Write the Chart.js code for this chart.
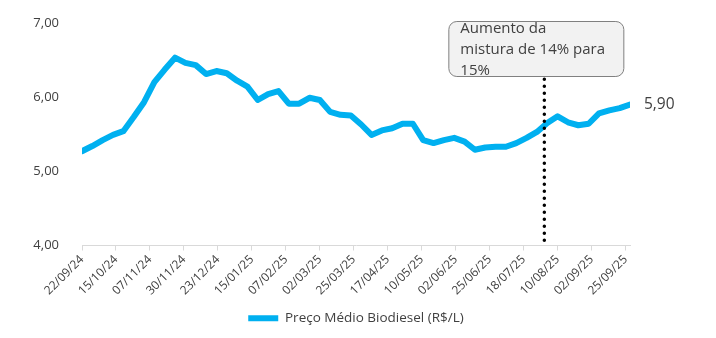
<!DOCTYPE html>
<html>
<head>
<meta charset="utf-8">
<script src="https://cdn.jsdelivr.net/npm/chart.js@4.4.1/dist/chart.umd.min.js"></script>
<style>
    html, body { margin: 0; padding: 0; background: #fff; }
    #wrap { width: 716px; height: 338px; }
</style>
</head>
<body>
<div id="wrap"><canvas id="dieselChart"></canvas></div>
<script>
// semanas (datas de referência)
const datas = [
    '2024-09-22', '2024-09-29', '2024-10-06', '2024-10-13', '2024-10-20', '2024-10-27',
    '2024-11-03', '2024-11-10', '2024-11-17', '2024-11-24', '2024-12-01', '2024-12-08',
    '2024-12-15', '2024-12-22', '2024-12-29', '2025-01-05', '2025-01-12', '2025-01-19',
    '2025-01-26', '2025-02-02', '2025-02-09', '2025-02-16', '2025-02-23', '2025-03-02',
    '2025-03-09', '2025-03-16', '2025-03-23', '2025-03-30', '2025-04-06', '2025-04-13',
    '2025-04-20', '2025-04-27', '2025-05-04', '2025-05-11', '2025-05-18', '2025-05-25',
    '2025-06-01', '2025-06-08', '2025-06-15', '2025-06-22', '2025-06-29', '2025-07-06',
    '2025-07-13', '2025-07-20', '2025-07-27', '2025-08-03', '2025-08-10', '2025-08-17',
    '2025-08-24', '2025-08-31', '2025-09-07', '2025-09-14', '2025-09-21', '2025-09-28'
];

const precoBiodiesel = [
    5.27, 5.34, 5.42, 5.49, 5.54, 5.73, 5.93, 6.20, 6.37, 6.53,
    6.46, 6.43, 6.31, 6.35, 6.32, 6.22, 6.14, 5.96, 6.04, 6.08,
    5.91, 5.91, 5.99, 5.96, 5.80, 5.76, 5.75, 5.63, 5.49, 5.55,
    5.58, 5.64, 5.64, 5.42, 5.38, 5.42, 5.45, 5.40, 5.29, 5.32,
    5.33, 5.33, 5.38, 5.45, 5.53, 5.65, 5.74, 5.66, 5.62, 5.64,
    5.78, 5.82, 5.85, 5.90
];

// rótulos do eixo x (a cada 23 dias)
const rotulosX = [
    '22/09/24', '15/10/24', '07/11/24', '30/11/24', '23/12/24', '15/01/25',
    '07/02/25', '02/03/25', '25/03/25', '17/04/25', '10/05/25', '02/06/25',
    '25/06/25', '18/07/25', '10/08/25', '02/09/25', '25/09/25'
];
const passoDias = 23;

const dataMistura = '2025-08-01';
const textoMistura = ['Aumento da', 'mistura de 14% para', '15%'];

const dia0 = Date.UTC(2024, 8, 22);
function diasDesde(iso) {
    const p = iso.split('-').map(Number);
    return Math.round((Date.UTC(p[0], p[1] - 1, p[2]) - dia0) / 86400000);
}

function fmt(v) {
    return v.toFixed(2).replace('.', ',');
}

const pontos = datas.map((d, i) => ({ x: diasDesde(d), y: precoBiodiesel[i] }));

const fonte = "'Open Sans', sans-serif";
const cinzaTexto = '#404040';

const anotacoes = {
    id: 'anotacoes',
    afterDatasetsDraw(chart) {
        const ctx = chart.ctx;
        const x = chart.scales.x;
        const y = chart.scales.y;

        // linha pontilhada da mudança de mistura
        const xm = x.getPixelForValue(diasDesde(dataMistura));
        ctx.save();
        ctx.strokeStyle = '#000';
        ctx.lineWidth = 3.5;
        ctx.lineCap = 'round';
        ctx.setLineDash([0, 7]);
        ctx.beginPath();
        ctx.moveTo(xm, y.getPixelForValue(6.24));
        ctx.lineTo(xm, y.getPixelForValue(4.04));
        ctx.stroke();
        ctx.restore();

        // caixa de texto
        const bx = xm - 96, by = 21, bw = 175, bh = 55;
        ctx.save();
        ctx.beginPath();
        ctx.roundRect(bx + 0.5, by + 0.5, bw, bh, 8);
        ctx.fillStyle = '#f2f2f2';
        ctx.fill();
        ctx.strokeStyle = '#808080';
        ctx.lineWidth = 1;
        ctx.stroke();
        ctx.fillStyle = cinzaTexto;
        ctx.font = '15px ' + fonte;
        ctx.textBaseline = 'alphabetic';
        textoMistura.forEach((t, i) => ctx.fillText(t, bx + 12, 33 + i * 21));
        ctx.restore();

        // rótulo do último valor
        const ult = pontos[pontos.length - 1];
        ctx.save();
        ctx.fillStyle = cinzaTexto;
        ctx.font = '15.5px ' + fonte;
        ctx.textBaseline = 'middle';
        ctx.fillText(fmt(ult.y), x.getPixelForValue(ult.x) + 14, y.getPixelForValue(ult.y));
        ctx.restore();
    }
};

new Chart(document.getElementById('dieselChart').getContext('2d'), {
    type: 'line',
    data: {
        datasets: [{
            label: 'Preço Médio Biodiesel (R$/L)',
            data: pontos,
            borderColor: '#00b0f0',
            backgroundColor: '#00b0f0',
            borderWidth: 6,
            borderJoinStyle: 'round',
            borderCapStyle: 'round',
            tension: 0,
            pointRadius: 0,
            pointHoverRadius: 0,
            fill: false
        }]
    },
    options: {
        responsive: true,
        maintainAspectRatio: false,
        animation: false,
        layout: {
            padding: { left: 0, right: 86, top: 21, bottom: 3 }
        },
        plugins: {
            legend: {
                position: 'bottom',
                fullSize: false,
                labels: {
                    usePointStyle: true,
                    pointStyle: 'line',
                    pointStyleWidth: 30,
                    padding: 10,
                    color: cinzaTexto,
                    font: { size: 13.5, family: fonte }
                }
            },
            tooltip: { enabled: false }
        },
        scales: {
            x: {
                type: 'linear',
                min: 0,
                max: diasDesde(datas[datas.length - 1]),
                afterFit: (scale) => { scale.height = 56; },
                border: { display: true, color: '#d9d9d9', width: 1 },
                grid: {
                    display: true,
                    drawOnChartArea: false,
                    drawTicks: true,
                    tickLength: 5,
                    color: '#d9d9d9'
                },
                ticks: {
                    stepSize: passoDias,
                    includeBounds: false,
                    autoSkip: false,
                    maxRotation: 45,
                    minRotation: 45,
                    padding: 2,
                    color: cinzaTexto,
                    font: { size: 12, family: fonte },
                    callback: function(value) {
                        const i = Math.round(value / passoDias);
                        return rotulosX[i] || '';
                    }
                }
            },
            y: {
                min: 4,
                max: 7,
                afterFit: (scale) => { scale.width = 82; },
                border: { display: false },
                grid: { display: false },
                ticks: {
                    stepSize: 1,
                    padding: 15,
                    color: cinzaTexto,
                    font: { size: 13, family: fonte },
                    callback: function(value) {
                        return fmt(value);
                    }
                }
            }
        }
    },
    plugins: [anotacoes]
});
</script>
</body>
</html>
